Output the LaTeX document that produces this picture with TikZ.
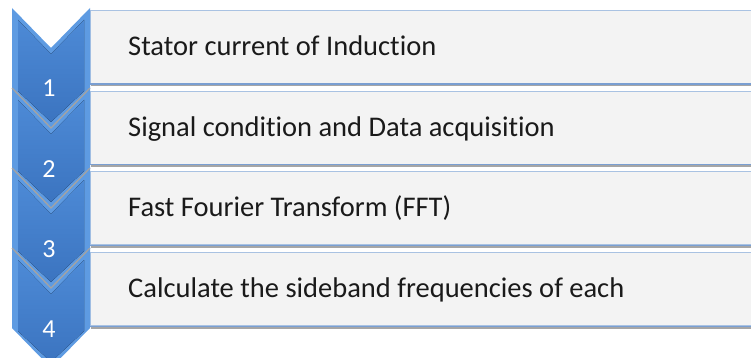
\documentclass[tikz,border=0pt]{standalone}
\usepackage{fontspec}
\setmainfont{Carlito}[Ligatures=NoCommon]
\usetikzlibrary{shadows}
\definecolor{chevmid}{HTML}{4D8AD6}
\definecolor{chevlight}{HTML}{5E9BE2}
\definecolor{chevdark}{HTML}{3B74C0}
\definecolor{boxfill}{HTML}{F3F3F3}
\definecolor{boxedge}{HTML}{A9C2E2}
\definecolor{boxbottom}{HTML}{7A9FD2}
\definecolor{seam}{HTML}{A3A3A3}
\definecolor{textdark}{HTML}{1A1A1A}
\begin{document}
\begin{tikzpicture}[x=1pt,y=-1pt,
  chevouter/.style={fill=chevlight},
  chevinner/.style={top color=chevmid,bottom color=chevdark},
  seamline/.style={draw=seam,line width=1.3pt,line join=round},
  stepbox/.style={draw=boxedge,fill=boxfill,line width=1pt,
    minimum width=700pt,minimum height=73pt,anchor=north west,inner sep=0pt,
    drop shadow={shadow xshift=0pt,shadow yshift=-3pt,fill=black,opacity=0.35}},
  boxline/.style={draw=boxbottom,line width=1.2pt},
  steptext/.style={anchor=base west,font=\fontsize{28.5}{30}\selectfont,text=textdark,inner sep=0pt},
  stepnum/.style={anchor=base,font=\fontsize{26}{28}\selectfont,text=white,inner sep=0pt}]
\useasboundingbox (0,0) rectangle (751,358);
\clip (0,0) rectangle (751,358);

% step boxes
\foreach \i/\lab in {1/{Stator current of Induction},
                     2/{Signal condition and Data acquisition},
                     3/{Fast Fourier Transform (FFT)},
                     4/{Calculate the sideband frequencies of each}} {
  \pgfmathsetmacro\top{10+80.7*(\i-1)}
  \node[stepbox] (b\i) at (90,\top) {};
  \draw[boxline] (b\i.south west) -- (b\i.south east);
  \node[steptext] (t\i) at (128,\top+45.5) {\lab};
}

% chevrons, each drawn over the tip of the one above
\foreach \i in {1,...,4} {
  \pgfmathsetmacro\t{8+80*(\i-1)}
  \fill[chevouter] (12,\t) -- (51,\t+40) -- (90,\t) -- (90,\t+80)
                   -- (51,\t+120) -- (12,\t+80) -- cycle;
  \fill[chevinner] (18,\t+12) -- (51,\t+46) -- (84,\t+12) -- (84,\t+83)
                   -- (51,\t+114) -- (18,\t+83) -- cycle;
  \ifnum\i>1
    \draw[seamline] (12,\t) -- (51,\t+40) -- (90,\t);
  \fi
  \node[stepnum] (n\i) at (49,\t+89) {\i};
}
\end{tikzpicture}
\end{document}
